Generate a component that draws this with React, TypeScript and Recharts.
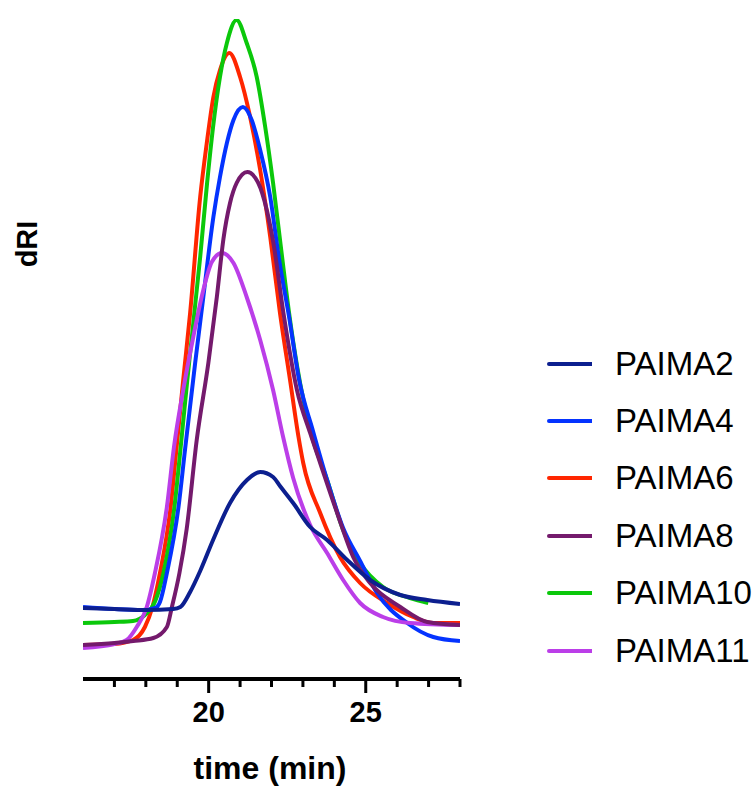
import { LineChart, Line, XAxis, YAxis } from "recharts";

// time (min) / dRI (arbitrary units)
const paima2 = [
  [16, 71], [17, 70], [18, 69], [18.87, 70], [19.1, 72], [19.41, 87], [19.73, 108],
  [20.14, 139], [20.68, 176], [21.22, 199], [21.64, 207], [22.05, 202], [22.27, 193],
  [22.69, 176], [23.23, 152], [23.77, 139], [24.41, 119], [25.14, 99], [26.1, 84],
  [26.96, 79], [28, 75],
];
const paima4 = [
  [16, 72], [17, 70], [17.9, 69], [18.3, 71], [18.45, 77], [18.67, 106], [19.04, 172],
  [19.25, 230], [19.57, 316], [19.83, 382], [20.15, 462], [20.36, 502], [20.58, 536],
  [20.79, 559], [21.09, 572], [21.37, 559], [21.64, 529], [21.96, 482], [22.24, 420],
  [22.56, 362], [22.88, 299], [23.32, 248], [23.77, 199], [24.28, 151], [24.82, 118],
  [25.36, 86], [26.32, 56], [27.15, 42], [28, 38],
];
const paima6 = [
  [16, 34], [17, 35], [17.59, 39], [17.97, 52], [18.21, 72], [18.45, 106], [18.79, 172],
  [18.98, 232], [19.19, 299], [19.41, 366], [19.73, 482], [19.94, 536], [20.15, 582],
  [20.36, 609], [20.66, 626], [21.0, 602], [21.32, 562], [21.64, 509], [21.96, 442],
  [22.27, 366], [22.59, 299], [22.86, 242], [23.01, 216], [23.55, 166], [24.18, 122],
  [24.82, 96], [25.68, 76], [26.51, 62], [27.15, 56], [28, 56],
];
const paima8 = [
  [16, 34], [17, 36], [17.6, 38], [18.24, 41], [18.67, 52], [18.83, 72], [19.07, 106],
  [19.3, 150], [19.62, 239], [19.99, 316], [20.26, 382], [20.47, 440], [20.68, 476],
  [20.89, 496], [21.23, 507], [21.58, 496], [21.85, 469], [22.06, 436], [22.38, 366],
  [22.81, 289], [23.23, 246], [23.55, 216], [24.09, 166], [24.6, 122], [25.14, 96],
  [26.1, 72], [26.96, 57], [28, 54],
];
const paima10 = [
  [16, 56], [17, 57], [17.59, 58], [17.97, 64], [18.3, 78], [18.56, 106], [18.91, 172],
  [19.11, 232], [19.32, 299], [19.73, 422], [19.95, 496], [20.14, 552], [20.36, 602],
  [20.58, 636], [20.89, 659], [21.21, 636], [21.53, 602], [21.8, 552], [22.05, 496],
  [22.31, 429], [22.56, 366], [22.82, 312], [23.26, 246], [23.77, 199], [24.28, 149],
  [24.82, 116], [25.55, 92], [26.41, 81], [26.99, 76],
];
const paima11 = [
  [16, 31], [17, 35], [17.39, 39], [17.71, 52], [18.03, 72], [18.29, 106], [18.67, 172],
  [18.9, 233], [19.19, 289], [19.51, 342], [19.83, 389], [20.1, 417], [20.42, 426],
  [20.79, 416], [21.21, 382], [21.64, 339], [22.05, 289], [22.37, 242], [22.69, 201],
  [23.23, 154], [23.77, 126], [24.28, 99], [24.82, 76], [25.55, 62], [26.41, 56], [28, 54],
];

const seriesNames = ["PAIMA2", "PAIMA4", "PAIMA6", "PAIMA8", "PAIMA10", "PAIMA11"];
const seriesColors = ["#0c1f8f", "#0433ff", "#ff2600", "#741a6c", "#0bc80b", "#bb3ee8"];
const seriesValues = [paima2, paima4, paima6, paima8, paima10, paima11];

const timeTicks = [17, 18, 19, 20, 21, 22, 23, 24, 25, 26, 27, 28];
const labeledTicks = [20, 25];

const FONT = '"Liberation Sans", Arial, Helvetica, sans-serif';

const series = seriesNames.map((name, i) => ({
  name,
  color: seriesColors[i],
  data: seriesValues[i].map(([t, v]) => ({ t, v })),
}));

// draw order (bottom -> top)
const drawOrder = [2, 4, 1, 5, 3, 0];

const TimeTick = (props: any) => {
  const { x, y, payload } = props;
  const major = labeledTicks.includes(payload.value);
  return (
    <g>
      <line x1={x} x2={x} y1={y} y2={y + (major ? 14 : 8)} stroke="#000" strokeWidth={3} />
      {major && (
        <text x={x} y={y + 43} textAnchor="middle" fontFamily={FONT} fontWeight="bold" fontSize={29} fill="#000">
          {payload.value}
        </text>
      )}
    </g>
  );
};

export default function App() {
  return (
    <div style={{ position: "absolute", left: 0, top: 0, width: 755, height: 789, background: "#fff" }}>
      <LineChart width={755} height={789} margin={{ top: 19, right: 295, bottom: 0, left: 83 }}>
        <XAxis
          type="number"
          dataKey="t"
          domain={[16, 28]}
          ticks={timeTicks}
          interval={0}
          allowDataOverflow
          height={110}
          tickSize={0}
          tickMargin={0}
          tickLine={false}
          axisLine={{ stroke: "#000", strokeWidth: 4 }}
          tick={<TimeTick />}
        />
        <YAxis hide type="number" domain={[0, 660]} allowDataOverflow />
        {drawOrder.map((i) => (
          <Line
            key={series[i].name}
            name={series[i].name}
            data={series[i].data}
            dataKey="v"
            type="monotone"
            stroke={series[i].color}
            strokeWidth={4}
            dot={false}
            isAnimationActive={false}
          />
        ))}
      </LineChart>

      <svg width={755} height={789} style={{ position: "absolute", left: 0, top: 0, pointerEvents: "none" }}>
        <text
          transform="translate(37,244) rotate(-90)"
          textAnchor="middle"
          fontFamily={FONT}
          fontWeight="bold"
          fontSize={29}
          fill="#000"
        >
          dRI
        </text>
        <text x={270} y={779} textAnchor="middle" fontFamily={FONT} fontWeight="bold" fontSize={32} fill="#000">
          time (min)
        </text>
      </svg>

      <div style={{ position: "absolute", left: 540, top: 335, width: 215 }}>
        {series.map((s) => (
          <div key={s.name} style={{ display: "flex", alignItems: "center", height: 57.4 }}>
            <svg width={52} height={6} style={{ flex: "none" }}>
              <line x1={9} x2={52} y1={3} y2={3} stroke={s.color} strokeWidth={4} strokeLinecap="round" />
            </svg>
            <span style={{ marginLeft: 23, fontFamily: FONT, fontSize: 33, color: "#000", whiteSpace: "nowrap" }}>
              {s.name}
            </span>
          </div>
        ))}
      </div>
    </div>
  );
}
